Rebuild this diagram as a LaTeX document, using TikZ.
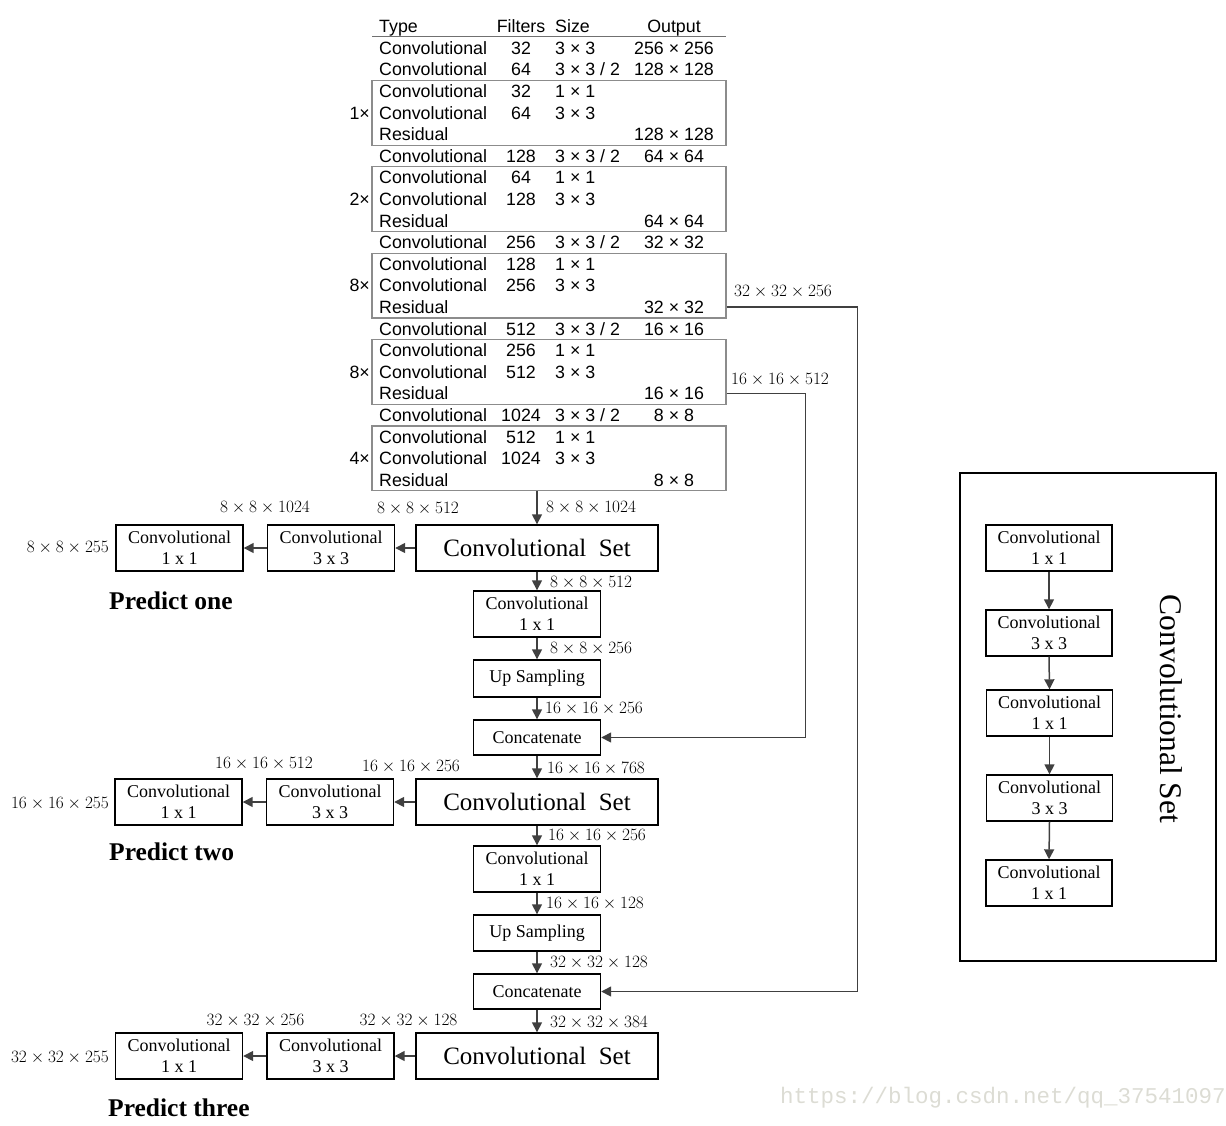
\documentclass[tikz,border=0pt]{standalone}
\usepackage{fontspec}
\setmainfont{Liberation Serif}
\setsansfont{Liberation Sans}
\setmonofont{Liberation Mono}
\usetikzlibrary{arrows.meta,calc}
\definecolor{arrgray}{HTML}{404040}
\definecolor{tblgray}{HTML}{8C8C8C}
\definecolor{wmgray}{HTML}{DCDCD4}
\newcommand\dsz{3 × 3 / 2}
\begin{document}
\begin{tikzpicture}[x=1pt,y=-1pt,
  tbl/.style={inner sep=0pt, font=\sffamily\fontsize{17.8}{20}\selectfont, text height=12.7pt, text depth=0pt},
  tframe/.style={draw=tblgray, line width=1.3pt, minimum width=354pt, minimum height=64.8pt, inner sep=0pt},
  blk/.style={draw=black, line width=1.4pt, inner sep=0pt, align=center, font=\fontsize{18}{21}\selectfont, minimum height=46pt, minimum width=127pt},
  cset/.style={blk, minimum width=242pt, font=\fontsize{25}{28}\selectfont},
  dim/.style={inner sep=0pt, font=\fontsize{17}{17}\selectfont, text height=11pt, text depth=0pt},
  arr/.style={draw=arrgray, line width=1.5pt, -{Triangle[length=10pt,width=10pt]}},
  pred/.style={inner sep=0pt, anchor=west, font=\bfseries\fontsize{25.5}{28}\selectfont, text height=17pt, text depth=0pt},
]
\useasboundingbox (0,0) rectangle (1226,1125);

% ---------------- table ----------------
\node[tbl, anchor=west] (hType) at (379,26.4) {Type};
\node[tbl] (hFil) at (521,26.4) {Filters};
\node[tbl, anchor=west] (hSize) at (555,26.4) {Size};
\node[tbl] (hOut) at (674,26.4) {Output};
\draw[draw=tblgray!80!black, line width=1.3pt] (372,36.5) -- (726,36.5);

\foreach \k/\t in {1/Convolutional,2/Convolutional,3/Convolutional,4/Convolutional,5/Residual,
  6/Convolutional,7/Convolutional,8/Convolutional,9/Residual,
  10/Convolutional,11/Convolutional,12/Convolutional,13/Residual,
  14/Convolutional,15/Convolutional,16/Convolutional,17/Residual,
  18/Convolutional,19/Convolutional,20/Convolutional,21/Residual}
  \node[tbl, anchor=west] (ty\k) at (379,{26.4+\k*21.6}) {\t};

\foreach \k/\f in {1/32,2/64,3/32,4/64,6/128,7/64,8/128,10/256,11/128,12/256,
  14/512,15/256,16/512,18/1024,19/512,20/1024}
  \node[tbl] (fi\k) at (521,{26.4+\k*21.6}) {\f};

\foreach \k/\s in {1/3 × 3,2/\dsz,3/1 × 1,4/3 × 3,6/\dsz,7/1 × 1,8/3 × 3,
  10/\dsz,11/1 × 1,12/3 × 3,14/\dsz,15/1 × 1,16/3 × 3,18/\dsz,19/1 × 1,20/3 × 3}
  \node[tbl, anchor=west] (sz\k) at (555,{26.4+\k*21.6}) {\s};

\foreach \k/\o in {1/256 × 256,2/128 × 128,5/128 × 128,6/64 × 64,9/64 × 64,
  10/32 × 32,13/32 × 32,14/16 × 16,17/16 × 16,18/8 × 8,21/8 × 8}
  \node[tbl] (ou\k) at (674,{26.4+\k*21.6}) {\o};

\foreach \n/\r/\m in {1/4/1,2/8/2,3/12/8,4/16/8,5/20/4}{
  \node[tframe] (b\n) at (549,{26.4+\r*21.6}) {};
  \node[tbl, anchor=east] (mul\n) at (370,{26.4+\r*21.6}) {\m×};
}

% ---------------- main column ----------------
\node[cset] (cs1) at (537,548) {Convolutional~~Set};
\node[blk] (c33a) at (331,548) {Convolutional\\3 x 3};
\node[blk] (c11a) at (179.5,548) {Convolutional\\1 x 1};
\node[blk] (m11a) at (537,614) {Convolutional\\1 x 1};
\node[blk, minimum height=37pt] (upa) at (537,678.5) {Up Sampling};
\node[blk, minimum height=35pt] (cat1) at (537,737.5) {Concatenate};

\node[cset] (cs2) at (537,802) {Convolutional~~Set};
\node[blk] (c33b) at (330,802) {Convolutional\\3 x 3};
\node[blk] (c11b) at (178.5,802) {Convolutional\\1 x 1};
\node[blk] (m11b) at (537,869) {Convolutional\\1 x 1};
\node[blk, minimum height=36pt] (upb) at (537,933) {Up Sampling};
\node[blk, minimum height=35pt] (cat2) at (537,991.5) {Concatenate};

\node[cset] (cs3) at (537,1056) {Convolutional~~Set};
\node[blk] (c33c) at (330.5,1056) {Convolutional\\3 x 3};
\node[blk] (c11c) at (179,1056) {Convolutional\\1 x 1};

\node[pred] (p1) at (109,601) {Predict one};
\node[pred] (p2) at (109,852) {Predict two};
\node[pred] (p3) at (108,1108) {Predict three};

% arrows
\draw[arr] (cs1.north |- b5.south) -- (cs1.north);
\draw[arr] (cs1.west) -- (c33a.east);
\draw[arr] (c33a.west) -- (c11a.east);
\draw[arr] (cs1.south) -- (m11a.north);
\draw[arr] (m11a.south) -- (upa.north);
\draw[arr] (upa.south) -- (cat1.north);
\draw[arr] (cat1.south) -- (cs2.north);
\draw[arr] (cs2.west) -- (c33b.east);
\draw[arr] (c33b.west) -- (c11b.east);
\draw[arr] (cs2.south) -- (m11b.north);
\draw[arr] (m11b.south) -- (upb.north);
\draw[arr] (upb.south) -- (cat2.north);
\draw[arr] (cat2.south) -- (cs3.north);
\draw[arr] (cs3.west) -- (c33c.east);
\draw[arr] (c33c.west) -- (c11c.east);
\draw[arr] ($(b3.east)+(0,21.6)$) -- ++(131,0) |- (cat2.east);
\draw[arr] ($(b4.east)+(0,21.6)$) -- ++(79,0) |- (cat1.east);

% dimension labels
\node[dim, anchor=west] (d1) at (546,507) {$8\times8\times1024$};
\node[dim] (d2) at (418,508) {$8\times8\times512$};
\node[dim] (d3) at (265,507) {$8\times8\times1024$};
\node[dim, anchor=east] (d4) at (109,547) {$8\times8\times255$};
\node[dim, anchor=west] (d5) at (550,582) {$8\times8\times512$};
\node[dim, anchor=west] (d6) at (550,648) {$8\times8\times256$};
\node[dim, anchor=west] (d7) at (545,708) {$16\times16\times256$};
\node[dim, anchor=west] (d8) at (547,768) {$16\times16\times768$};
\node[dim] (d9) at (264,763) {$16\times16\times512$};
\node[dim] (d10) at (411,766) {$16\times16\times256$};
\node[dim, anchor=east] (d11) at (109,803) {$16\times16\times255$};
\node[dim, anchor=west] (d12) at (548,835) {$16\times16\times256$};
\node[dim, anchor=west] (d13) at (546,903) {$16\times16\times128$};
\node[dim, anchor=west] (d14) at (550,962) {$32\times32\times128$};
\node[dim, anchor=west] (d15) at (550,1022) {$32\times32\times384$};
\node[dim] (d16) at (255.5,1020) {$32\times32\times256$};
\node[dim] (d17) at (408.5,1020) {$32\times32\times128$};
\node[dim, anchor=east] (d18) at (109,1057) {$32\times32\times255$};
\node[dim, anchor=west] (d19) at (734,291) {$32\times32\times256$};
\node[dim, anchor=west] (d20) at (731,379) {$16\times16\times512$};

% ---------------- right panel ----------------
\draw[line width=1.4pt] (960,473) rectangle (1216,961);
\node[blk, minimum width=126pt] (r1) at (1049,548) {Convolutional\\1 x 1};
\node[blk, minimum width=126pt] (r2) at (1049,633) {Convolutional\\3 x 3};
\node[blk, minimum width=126pt] (r3) at (1049.5,713) {Convolutional\\1 x 1};
\node[blk, minimum width=126pt] (r4) at (1049.5,798) {Convolutional\\3 x 3};
\node[blk, minimum width=126pt] (r5) at (1049,883) {Convolutional\\1 x 1};
\draw[arr] (r1.south) -- (r2.north);
\draw[arr] (r2.south) -- (r3.north);
\draw[arr] (r3.south) -- (r4.north);
\draw[arr] (r4.south) -- (r5.north);
\node[rotate=-90, inner sep=0pt, font=\fontsize{31.5}{34}\selectfont, text height=21pt, text depth=0pt] (title) at (1171,709) {Convolutional Set};

% watermark
\node[anchor=west, inner sep=0pt, text=wmgray, font=\ttfamily\fontsize{22.5}{22.5}\selectfont] (wm) at (780,1098) {https://blog.csdn.net/qq\_37541097};
\end{tikzpicture}
\end{document}
